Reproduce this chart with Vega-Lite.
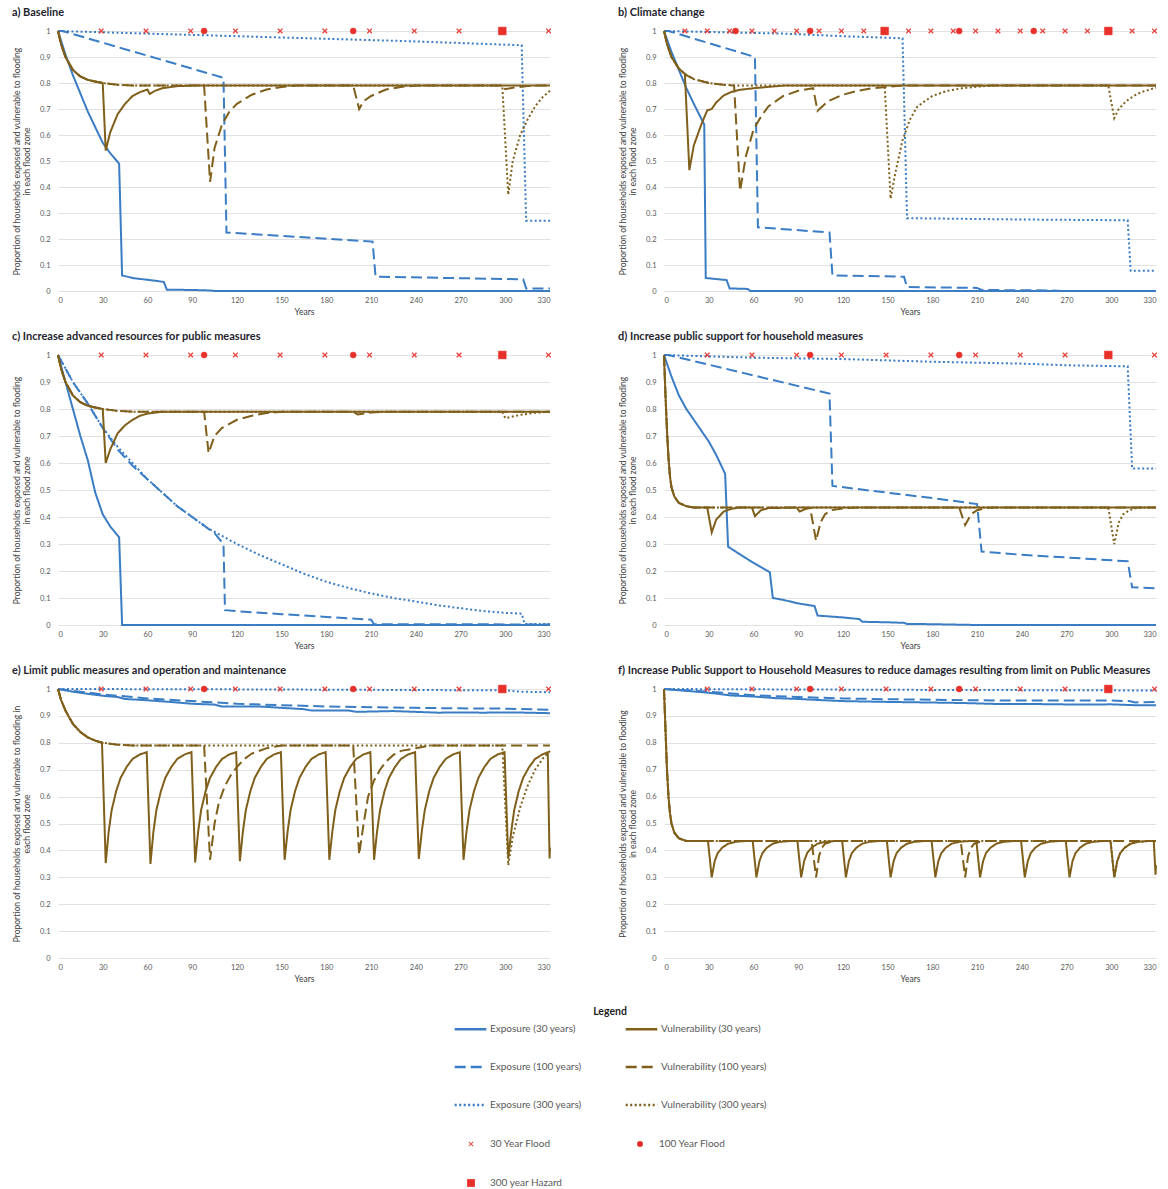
{
"$schema":"https://vega.github.io/schema/vega-lite/v6.json",
"background":"white",
"padding":{"left":12,"top":7,"right":4,"bottom":4},
"config":{
 "font":"Lato",
 "view":{"stroke":null},
 "axis":{"labelFont":"Lato","labelFontSize":7.5,"labelColor":"#595959","labelOverlap":false,"titleFont":"Lato","titleFontSize":8.5,"titleFontWeight":"normal","titleColor":"#404040","domain":false,"ticks":false,"gridColor":"#d9d9d9","gridWidth":0.8},
 "title":{"font":"Lato","fontSize":11,"fontWeight":"bold","color":"#1f1f2f","anchor":"start","frame":"bounds","offset":8},
 "legend":{"labelFont":"Lato","labelFontSize":10,"labelColor":"#595959","titleFont":"Lato","titleFontSize":10.5,"titleFontWeight":"bold","titleColor":"#1f1f1f"}
},
"data":{"values":[
{"p":"a","s":"E30","x":0,"y":1},{"p":"a","s":"E30","x":5,"y":0.91},{"p":"a","s":"E30","x":10,"y":0.83},{"p":"a","s":"E30","x":15,"y":0.76},{"p":"a","s":"E30","x":20,"y":0.69},{"p":"a","s":"E30","x":25,"y":0.63},{"p":"a","s":"E30","x":30,"y":0.57},{"p":"a","s":"E30","x":35,"y":0.53},{"p":"a","s":"E30","x":41,"y":0.49},{"p":"a","s":"E30","x":43,"y":0.06},{"p":"a","s":"E30","x":50,"y":0.05},{"p":"a","s":"E30","x":60,"y":0.043},{"p":"a","s":"E30","x":71,"y":0.035},{"p":"a","s":"E30","x":73,"y":0.005},{"p":"a","s":"E30","x":90,"y":0.004},{"p":"a","s":"E30","x":102,"y":0.002},{"p":"a","s":"E30","x":105,"y":0},{"p":"a","s":"E30","x":330,"y":0},
{"p":"a","s":"E100","x":0,"y":1},{"p":"a","s":"E100","x":3,"y":1},{"p":"a","s":"E100","x":111,"y":0.82},{"p":"a","s":"E100","x":113,"y":0.225},{"p":"a","s":"E100","x":211,"y":0.19},{"p":"a","s":"E100","x":213,"y":0.055},{"p":"a","s":"E100","x":312,"y":0.045},{"p":"a","s":"E100","x":314,"y":0.01},{"p":"a","s":"E100","x":330,"y":0.01},
{"p":"a","s":"E300","x":0,"y":1},{"p":"a","s":"E300","x":60,"y":0.99},{"p":"a","s":"E300","x":120,"y":0.98},{"p":"a","s":"E300","x":180,"y":0.97},{"p":"a","s":"E300","x":240,"y":0.96},{"p":"a","s":"E300","x":311,"y":0.945},{"p":"a","s":"E300","x":314,"y":0.27},{"p":"a","s":"E300","x":330,"y":0.27},
{"p":"a","s":"V30","x":0,"y":1},{"p":"a","s":"V30","x":2,"y":0.95},{"p":"a","s":"V30","x":5,"y":0.9},{"p":"a","s":"V30","x":10,"y":0.85},{"p":"a","s":"V30","x":15,"y":0.825},{"p":"a","s":"V30","x":20,"y":0.812},{"p":"a","s":"V30","x":25,"y":0.805},{"p":"a","s":"V30","x":30,"y":0.8},{"p":"a","s":"V30","x":32,"y":0.54},{"p":"a","s":"V30","x":35,"y":0.61},{"p":"a","s":"V30","x":40,"y":0.68},{"p":"a","s":"V30","x":45,"y":0.72},{"p":"a","s":"V30","x":50,"y":0.75},{"p":"a","s":"V30","x":55,"y":0.765},{"p":"a","s":"V30","x":60,"y":0.775},{"p":"a","s":"V30","x":61.5,"y":0.758},{"p":"a","s":"V30","x":65,"y":0.77},{"p":"a","s":"V30","x":70,"y":0.78},{"p":"a","s":"V30","x":80,"y":0.788},{"p":"a","s":"V30","x":90,"y":0.79},{"p":"a","s":"V30","x":330,"y":0.79},
{"p":"a","s":"V100","x":0,"y":1},{"p":"a","s":"V100","x":2,"y":0.95},{"p":"a","s":"V100","x":5,"y":0.9},{"p":"a","s":"V100","x":10,"y":0.85},{"p":"a","s":"V100","x":15,"y":0.825},{"p":"a","s":"V100","x":20,"y":0.812},{"p":"a","s":"V100","x":30,"y":0.8},{"p":"a","s":"V100","x":40,"y":0.793},{"p":"a","s":"V100","x":50,"y":0.79},{"p":"a","s":"V100","x":98,"y":0.79},{"p":"a","s":"V100","x":102,"y":0.42},{"p":"a","s":"V100","x":105,"y":0.55},{"p":"a","s":"V100","x":110,"y":0.64},{"p":"a","s":"V100","x":115,"y":0.69},{"p":"a","s":"V100","x":120,"y":0.72},{"p":"a","s":"V100","x":130,"y":0.755},{"p":"a","s":"V100","x":140,"y":0.775},{"p":"a","s":"V100","x":150,"y":0.785},{"p":"a","s":"V100","x":160,"y":0.79},{"p":"a","s":"V100","x":198,"y":0.79},{"p":"a","s":"V100","x":202,"y":0.7},{"p":"a","s":"V100","x":205,"y":0.73},{"p":"a","s":"V100","x":210,"y":0.75},{"p":"a","s":"V100","x":220,"y":0.775},{"p":"a","s":"V100","x":230,"y":0.785},{"p":"a","s":"V100","x":240,"y":0.79},{"p":"a","s":"V100","x":298,"y":0.79},{"p":"a","s":"V100","x":300,"y":0.776},{"p":"a","s":"V100","x":305,"y":0.782},{"p":"a","s":"V100","x":315,"y":0.788},{"p":"a","s":"V100","x":320,"y":0.79},{"p":"a","s":"V100","x":330,"y":0.79},
{"p":"a","s":"V300","x":0,"y":1},{"p":"a","s":"V300","x":2,"y":0.95},{"p":"a","s":"V300","x":5,"y":0.9},{"p":"a","s":"V300","x":10,"y":0.85},{"p":"a","s":"V300","x":15,"y":0.825},{"p":"a","s":"V300","x":20,"y":0.812},{"p":"a","s":"V300","x":30,"y":0.8},{"p":"a","s":"V300","x":40,"y":0.793},{"p":"a","s":"V300","x":50,"y":0.79},{"p":"a","s":"V300","x":298,"y":0.79},{"p":"a","s":"V300","x":302,"y":0.37},{"p":"a","s":"V300","x":305,"y":0.5},{"p":"a","s":"V300","x":310,"y":0.6},{"p":"a","s":"V300","x":315,"y":0.66},{"p":"a","s":"V300","x":320,"y":0.71},{"p":"a","s":"V300","x":325,"y":0.745},{"p":"a","s":"V300","x":330,"y":0.77},
{"p":"a","f":"F30","x":29,"y":1},{"p":"a","f":"F30","x":59,"y":1},{"p":"a","f":"F30","x":89,"y":1},{"p":"a","f":"F30","x":119,"y":1},{"p":"a","f":"F30","x":149,"y":1},{"p":"a","f":"F30","x":179,"y":1},{"p":"a","f":"F30","x":209,"y":1},{"p":"a","f":"F30","x":239,"y":1},{"p":"a","f":"F30","x":269,"y":1},{"p":"a","f":"F30","x":329,"y":1},{"p":"a","f":"F100","x":98,"y":1},{"p":"a","f":"F100","x":198,"y":1},{"p":"a","f":"H300","x":298,"y":1},

{"p":"b","s":"E30","x":0,"y":1},{"p":"b","s":"E30","x":5,"y":0.92},{"p":"b","s":"E30","x":10,"y":0.85},{"p":"b","s":"E30","x":15,"y":0.78},{"p":"b","s":"E30","x":20,"y":0.72},{"p":"b","s":"E30","x":27,"y":0.64},{"p":"b","s":"E30","x":28,"y":0.05},{"p":"b","s":"E30","x":35,"y":0.046},{"p":"b","s":"E30","x":42,"y":0.042},{"p":"b","s":"E30","x":44,"y":0.01},{"p":"b","s":"E30","x":50,"y":0.009},{"p":"b","s":"E30","x":56,"y":0.008},{"p":"b","s":"E30","x":58,"y":0},{"p":"b","s":"E30","x":330,"y":0},
{"p":"b","s":"E100","x":0,"y":1},{"p":"b","s":"E100","x":3,"y":1},{"p":"b","s":"E100","x":61,"y":0.9},{"p":"b","s":"E100","x":63,"y":0.245},{"p":"b","s":"E100","x":111,"y":0.225},{"p":"b","s":"E100","x":113,"y":0.06},{"p":"b","s":"E100","x":161,"y":0.055},{"p":"b","s":"E100","x":163,"y":0.015},{"p":"b","s":"E100","x":210,"y":0.012},{"p":"b","s":"E100","x":213,"y":0.004},{"p":"b","s":"E100","x":260,"y":0.002},{"p":"b","s":"E100","x":270,"y":0},{"p":"b","s":"E100","x":330,"y":0},
{"p":"b","s":"E300","x":0,"y":1},{"p":"b","s":"E300","x":40,"y":0.995},{"p":"b","s":"E300","x":80,"y":0.99},{"p":"b","s":"E300","x":120,"y":0.98},{"p":"b","s":"E300","x":160,"y":0.972},{"p":"b","s":"E300","x":163,"y":0.28},{"p":"b","s":"E300","x":240,"y":0.275},{"p":"b","s":"E300","x":311,"y":0.272},{"p":"b","s":"E300","x":313,"y":0.078},{"p":"b","s":"E300","x":330,"y":0.078},
{"p":"b","s":"V30","x":0,"y":1},{"p":"b","s":"V30","x":2,"y":0.95},{"p":"b","s":"V30","x":5,"y":0.9},{"p":"b","s":"V30","x":10,"y":0.855},{"p":"b","s":"V30","x":14,"y":0.835},{"p":"b","s":"V30","x":17,"y":0.465},{"p":"b","s":"V30","x":20,"y":0.56},{"p":"b","s":"V30","x":25,"y":0.64},{"p":"b","s":"V30","x":29,"y":0.695},{"p":"b","s":"V30","x":32,"y":0.7},{"p":"b","s":"V30","x":35,"y":0.725},{"p":"b","s":"V30","x":40,"y":0.752},{"p":"b","s":"V30","x":45,"y":0.765},{"p":"b","s":"V30","x":50,"y":0.773},{"p":"b","s":"V30","x":60,"y":0.78},{"p":"b","s":"V30","x":70,"y":0.785},{"p":"b","s":"V30","x":80,"y":0.79},{"p":"b","s":"V30","x":330,"y":0.79},
{"p":"b","s":"V100","x":0,"y":1},{"p":"b","s":"V100","x":2,"y":0.95},{"p":"b","s":"V100","x":5,"y":0.9},{"p":"b","s":"V100","x":10,"y":0.855},{"p":"b","s":"V100","x":15,"y":0.83},{"p":"b","s":"V100","x":20,"y":0.815},{"p":"b","s":"V100","x":30,"y":0.8},{"p":"b","s":"V100","x":40,"y":0.793},{"p":"b","s":"V100","x":47,"y":0.79},{"p":"b","s":"V100","x":51,"y":0.385},{"p":"b","s":"V100","x":55,"y":0.52},{"p":"b","s":"V100","x":60,"y":0.62},{"p":"b","s":"V100","x":65,"y":0.67},{"p":"b","s":"V100","x":70,"y":0.71},{"p":"b","s":"V100","x":80,"y":0.75},{"p":"b","s":"V100","x":90,"y":0.77},{"p":"b","s":"V100","x":100,"y":0.78},{"p":"b","s":"V100","x":103,"y":0.693},{"p":"b","s":"V100","x":110,"y":0.73},{"p":"b","s":"V100","x":120,"y":0.755},{"p":"b","s":"V100","x":130,"y":0.77},{"p":"b","s":"V100","x":140,"y":0.78},{"p":"b","s":"V100","x":150,"y":0.785},{"p":"b","s":"V100","x":160,"y":0.79},{"p":"b","s":"V100","x":330,"y":0.79},
{"p":"b","s":"V300","x":0,"y":1},{"p":"b","s":"V300","x":2,"y":0.95},{"p":"b","s":"V300","x":5,"y":0.9},{"p":"b","s":"V300","x":10,"y":0.855},{"p":"b","s":"V300","x":15,"y":0.83},{"p":"b","s":"V300","x":20,"y":0.815},{"p":"b","s":"V300","x":30,"y":0.8},{"p":"b","s":"V300","x":40,"y":0.793},{"p":"b","s":"V300","x":50,"y":0.79},{"p":"b","s":"V300","x":148,"y":0.79},{"p":"b","s":"V300","x":152,"y":0.355},{"p":"b","s":"V300","x":155,"y":0.45},{"p":"b","s":"V300","x":160,"y":0.58},{"p":"b","s":"V300","x":165,"y":0.66},{"p":"b","s":"V300","x":170,"y":0.71},{"p":"b","s":"V300","x":180,"y":0.75},{"p":"b","s":"V300","x":190,"y":0.77},{"p":"b","s":"V300","x":200,"y":0.78},{"p":"b","s":"V300","x":210,"y":0.786},{"p":"b","s":"V300","x":220,"y":0.79},{"p":"b","s":"V300","x":298,"y":0.79},{"p":"b","s":"V300","x":302,"y":0.665},{"p":"b","s":"V300","x":305,"y":0.7},{"p":"b","s":"V300","x":310,"y":0.73},{"p":"b","s":"V300","x":315,"y":0.75},{"p":"b","s":"V300","x":320,"y":0.765},{"p":"b","s":"V300","x":330,"y":0.782},
{"p":"b","f":"F30","x":14,"y":1},{"p":"b","f":"F30","x":29,"y":1},{"p":"b","f":"F30","x":44,"y":1},{"p":"b","f":"F30","x":59,"y":1},{"p":"b","f":"F30","x":74,"y":1},{"p":"b","f":"F30","x":89,"y":1},{"p":"b","f":"F30","x":104,"y":1},{"p":"b","f":"F30","x":119,"y":1},{"p":"b","f":"F30","x":134,"y":1},{"p":"b","f":"F30","x":164,"y":1},{"p":"b","f":"F30","x":179,"y":1},{"p":"b","f":"F30","x":194,"y":1},{"p":"b","f":"F30","x":209,"y":1},{"p":"b","f":"F30","x":224,"y":1},{"p":"b","f":"F30","x":239,"y":1},{"p":"b","f":"F30","x":254,"y":1},{"p":"b","f":"F30","x":269,"y":1},{"p":"b","f":"F30","x":284,"y":1},{"p":"b","f":"F30","x":314,"y":1},{"p":"b","f":"F30","x":329,"y":1},{"p":"b","f":"F100","x":48,"y":1},{"p":"b","f":"F100","x":98,"y":1},{"p":"b","f":"F100","x":198,"y":1},{"p":"b","f":"F100","x":248,"y":1},{"p":"b","f":"H300","x":148,"y":1},{"p":"b","f":"H300","x":298,"y":1},

{"p":"c","s":"E30","x":0,"y":1},{"p":"c","s":"E30","x":5,"y":0.9},{"p":"c","s":"E30","x":10,"y":0.8},{"p":"c","s":"E30","x":15,"y":0.7},{"p":"c","s":"E30","x":20,"y":0.61},{"p":"c","s":"E30","x":25,"y":0.49},{"p":"c","s":"E30","x":30,"y":0.41},{"p":"c","s":"E30","x":35,"y":0.365},{"p":"c","s":"E30","x":41,"y":0.325},{"p":"c","s":"E30","x":43,"y":0},{"p":"c","s":"E30","x":330,"y":0},
{"p":"c","s":"E100","x":0,"y":1},{"p":"c","s":"E100","x":5,"y":0.95},{"p":"c","s":"E100","x":10,"y":0.9},{"p":"c","s":"E100","x":20,"y":0.82},{"p":"c","s":"E100","x":30,"y":0.73},{"p":"c","s":"E100","x":40,"y":0.65},{"p":"c","s":"E100","x":50,"y":0.59},{"p":"c","s":"E100","x":65,"y":0.515},{"p":"c","s":"E100","x":80,"y":0.44},{"p":"c","s":"E100","x":90,"y":0.4},{"p":"c","s":"E100","x":100,"y":0.36},{"p":"c","s":"E100","x":105,"y":0.34},{"p":"c","s":"E100","x":111,"y":0.3},{"p":"c","s":"E100","x":112,"y":0.055},{"p":"c","s":"E100","x":130,"y":0.047},{"p":"c","s":"E100","x":150,"y":0.04},{"p":"c","s":"E100","x":180,"y":0.03},{"p":"c","s":"E100","x":210,"y":0.02},{"p":"c","s":"E100","x":212,"y":0.003},{"p":"c","s":"E100","x":330,"y":0.002},
{"p":"c","s":"E300","x":0,"y":1},{"p":"c","s":"E300","x":10,"y":0.9},{"p":"c","s":"E300","x":20,"y":0.82},{"p":"c","s":"E300","x":30,"y":0.73},{"p":"c","s":"E300","x":40,"y":0.66},{"p":"c","s":"E300","x":50,"y":0.6},{"p":"c","s":"E300","x":60,"y":0.54},{"p":"c","s":"E300","x":70,"y":0.49},{"p":"c","s":"E300","x":80,"y":0.44},{"p":"c","s":"E300","x":90,"y":0.4},{"p":"c","s":"E300","x":100,"y":0.36},{"p":"c","s":"E300","x":110,"y":0.33},{"p":"c","s":"E300","x":120,"y":0.3},{"p":"c","s":"E300","x":135,"y":0.26},{"p":"c","s":"E300","x":150,"y":0.225},{"p":"c","s":"E300","x":165,"y":0.19},{"p":"c","s":"E300","x":180,"y":0.16},{"p":"c","s":"E300","x":195,"y":0.137},{"p":"c","s":"E300","x":210,"y":0.117},{"p":"c","s":"E300","x":225,"y":0.1},{"p":"c","s":"E300","x":240,"y":0.087},{"p":"c","s":"E300","x":255,"y":0.073},{"p":"c","s":"E300","x":270,"y":0.062},{"p":"c","s":"E300","x":285,"y":0.052},{"p":"c","s":"E300","x":300,"y":0.045},{"p":"c","s":"E300","x":311,"y":0.042},{"p":"c","s":"E300","x":313,"y":0.004},{"p":"c","s":"E300","x":330,"y":0.004},
{"p":"c","s":"V30","x":0,"y":1},{"p":"c","s":"V30","x":2,"y":0.95},{"p":"c","s":"V30","x":5,"y":0.9},{"p":"c","s":"V30","x":10,"y":0.85},{"p":"c","s":"V30","x":15,"y":0.825},{"p":"c","s":"V30","x":20,"y":0.812},{"p":"c","s":"V30","x":25,"y":0.805},{"p":"c","s":"V30","x":30,"y":0.8},{"p":"c","s":"V30","x":32,"y":0.6},{"p":"c","s":"V30","x":35,"y":0.65},{"p":"c","s":"V30","x":40,"y":0.71},{"p":"c","s":"V30","x":45,"y":0.74},{"p":"c","s":"V30","x":50,"y":0.76},{"p":"c","s":"V30","x":55,"y":0.775},{"p":"c","s":"V30","x":60,"y":0.783},{"p":"c","s":"V30","x":70,"y":0.79},{"p":"c","s":"V30","x":330,"y":0.79},
{"p":"c","s":"V100","x":0,"y":1},{"p":"c","s":"V100","x":2,"y":0.95},{"p":"c","s":"V100","x":5,"y":0.9},{"p":"c","s":"V100","x":10,"y":0.85},{"p":"c","s":"V100","x":15,"y":0.825},{"p":"c","s":"V100","x":20,"y":0.812},{"p":"c","s":"V100","x":30,"y":0.8},{"p":"c","s":"V100","x":40,"y":0.793},{"p":"c","s":"V100","x":50,"y":0.79},{"p":"c","s":"V100","x":98,"y":0.79},{"p":"c","s":"V100","x":101,"y":0.637},{"p":"c","s":"V100","x":105,"y":0.7},{"p":"c","s":"V100","x":110,"y":0.73},{"p":"c","s":"V100","x":120,"y":0.76},{"p":"c","s":"V100","x":130,"y":0.775},{"p":"c","s":"V100","x":140,"y":0.785},{"p":"c","s":"V100","x":150,"y":0.79},{"p":"c","s":"V100","x":198,"y":0.79},{"p":"c","s":"V100","x":201,"y":0.78},{"p":"c","s":"V100","x":210,"y":0.787},{"p":"c","s":"V100","x":220,"y":0.79},{"p":"c","s":"V100","x":330,"y":0.79},
{"p":"c","s":"V300","x":0,"y":1},{"p":"c","s":"V300","x":2,"y":0.95},{"p":"c","s":"V300","x":5,"y":0.9},{"p":"c","s":"V300","x":10,"y":0.85},{"p":"c","s":"V300","x":15,"y":0.825},{"p":"c","s":"V300","x":20,"y":0.812},{"p":"c","s":"V300","x":30,"y":0.8},{"p":"c","s":"V300","x":40,"y":0.793},{"p":"c","s":"V300","x":50,"y":0.79},{"p":"c","s":"V300","x":298,"y":0.79},{"p":"c","s":"V300","x":300,"y":0.766},{"p":"c","s":"V300","x":310,"y":0.778},{"p":"c","s":"V300","x":320,"y":0.786},{"p":"c","s":"V300","x":330,"y":0.79},
{"p":"c","f":"F30","x":29,"y":1},{"p":"c","f":"F30","x":59,"y":1},{"p":"c","f":"F30","x":89,"y":1},{"p":"c","f":"F30","x":119,"y":1},{"p":"c","f":"F30","x":149,"y":1},{"p":"c","f":"F30","x":179,"y":1},{"p":"c","f":"F30","x":209,"y":1},{"p":"c","f":"F30","x":239,"y":1},{"p":"c","f":"F30","x":269,"y":1},{"p":"c","f":"F30","x":329,"y":1},{"p":"c","f":"F100","x":98,"y":1},{"p":"c","f":"F100","x":198,"y":1},{"p":"c","f":"H300","x":298,"y":1},

{"p":"d","s":"E30","x":0,"y":1},{"p":"d","s":"E30","x":5,"y":0.92},{"p":"d","s":"E30","x":10,"y":0.85},{"p":"d","s":"E30","x":15,"y":0.8},{"p":"d","s":"E30","x":20,"y":0.76},{"p":"d","s":"E30","x":25,"y":0.72},{"p":"d","s":"E30","x":30,"y":0.68},{"p":"d","s":"E30","x":35,"y":0.63},{"p":"d","s":"E30","x":41,"y":0.56},{"p":"d","s":"E30","x":43,"y":0.29},{"p":"d","s":"E30","x":50,"y":0.265},{"p":"d","s":"E30","x":60,"y":0.23},{"p":"d","s":"E30","x":71,"y":0.195},{"p":"d","s":"E30","x":73,"y":0.1},{"p":"d","s":"E30","x":80,"y":0.093},{"p":"d","s":"E30","x":90,"y":0.08},{"p":"d","s":"E30","x":101,"y":0.07},{"p":"d","s":"E30","x":103,"y":0.035},{"p":"d","s":"E30","x":110,"y":0.032},{"p":"d","s":"E30","x":120,"y":0.028},{"p":"d","s":"E30","x":131,"y":0.022},{"p":"d","s":"E30","x":133,"y":0.012},{"p":"d","s":"E30","x":150,"y":0.01},{"p":"d","s":"E30","x":161,"y":0.008},{"p":"d","s":"E30","x":163,"y":0.004},{"p":"d","s":"E30","x":180,"y":0.003},{"p":"d","s":"E30","x":200,"y":0.001},{"p":"d","s":"E30","x":210,"y":0},{"p":"d","s":"E30","x":330,"y":0},
{"p":"d","s":"E100","x":0,"y":1},{"p":"d","s":"E100","x":3,"y":1},{"p":"d","s":"E100","x":111,"y":0.857},{"p":"d","s":"E100","x":113,"y":0.515},{"p":"d","s":"E100","x":150,"y":0.49},{"p":"d","s":"E100","x":180,"y":0.47},{"p":"d","s":"E100","x":210,"y":0.448},{"p":"d","s":"E100","x":213,"y":0.272},{"p":"d","s":"E100","x":240,"y":0.26},{"p":"d","s":"E100","x":270,"y":0.25},{"p":"d","s":"E100","x":311,"y":0.236},{"p":"d","s":"E100","x":314,"y":0.14},{"p":"d","s":"E100","x":330,"y":0.136},
{"p":"d","s":"E300","x":0,"y":1},{"p":"d","s":"E300","x":30,"y":0.995},{"p":"d","s":"E300","x":60,"y":0.99},{"p":"d","s":"E300","x":120,"y":0.985},{"p":"d","s":"E300","x":180,"y":0.975},{"p":"d","s":"E300","x":240,"y":0.968},{"p":"d","s":"E300","x":270,"y":0.962},{"p":"d","s":"E300","x":311,"y":0.958},{"p":"d","s":"E300","x":314,"y":0.58},{"p":"d","s":"E300","x":330,"y":0.58},
{"p":"d","s":"V30","x":0,"y":1},{"p":"d","s":"V30","x":1,"y":0.85},{"p":"d","s":"V30","x":2,"y":0.72},{"p":"d","s":"V30","x":3,"y":0.62},{"p":"d","s":"V30","x":4,"y":0.55},{"p":"d","s":"V30","x":5,"y":0.51},{"p":"d","s":"V30","x":7,"y":0.475},{"p":"d","s":"V30","x":10,"y":0.452},{"p":"d","s":"V30","x":15,"y":0.44},{"p":"d","s":"V30","x":20,"y":0.435},{"p":"d","s":"V30","x":29,"y":0.435},{"p":"d","s":"V30","x":32,"y":0.343},{"p":"d","s":"V30","x":35,"y":0.39},{"p":"d","s":"V30","x":40,"y":0.42},{"p":"d","s":"V30","x":45,"y":0.43},{"p":"d","s":"V30","x":50,"y":0.435},{"p":"d","s":"V30","x":59,"y":0.435},{"p":"d","s":"V30","x":61,"y":0.403},{"p":"d","s":"V30","x":65,"y":0.425},{"p":"d","s":"V30","x":70,"y":0.433},{"p":"d","s":"V30","x":89,"y":0.435},{"p":"d","s":"V30","x":91,"y":0.42},{"p":"d","s":"V30","x":95,"y":0.43},{"p":"d","s":"V30","x":100,"y":0.435},{"p":"d","s":"V30","x":330,"y":0.435},
{"p":"d","s":"V100","x":0,"y":1},{"p":"d","s":"V100","x":1,"y":0.85},{"p":"d","s":"V100","x":2,"y":0.72},{"p":"d","s":"V100","x":3,"y":0.62},{"p":"d","s":"V100","x":4,"y":0.55},{"p":"d","s":"V100","x":5,"y":0.51},{"p":"d","s":"V100","x":7,"y":0.475},{"p":"d","s":"V100","x":10,"y":0.452},{"p":"d","s":"V100","x":15,"y":0.44},{"p":"d","s":"V100","x":20,"y":0.435},{"p":"d","s":"V100","x":98,"y":0.435},{"p":"d","s":"V100","x":102,"y":0.312},{"p":"d","s":"V100","x":105,"y":0.38},{"p":"d","s":"V100","x":108,"y":0.41},{"p":"d","s":"V100","x":112,"y":0.425},{"p":"d","s":"V100","x":120,"y":0.432},{"p":"d","s":"V100","x":130,"y":0.435},{"p":"d","s":"V100","x":198,"y":0.435},{"p":"d","s":"V100","x":202,"y":0.37},{"p":"d","s":"V100","x":206,"y":0.41},{"p":"d","s":"V100","x":210,"y":0.425},{"p":"d","s":"V100","x":215,"y":0.432},{"p":"d","s":"V100","x":220,"y":0.435},{"p":"d","s":"V100","x":330,"y":0.435},
{"p":"d","s":"V300","x":0,"y":1},{"p":"d","s":"V300","x":1,"y":0.85},{"p":"d","s":"V300","x":2,"y":0.72},{"p":"d","s":"V300","x":3,"y":0.62},{"p":"d","s":"V300","x":4,"y":0.55},{"p":"d","s":"V300","x":5,"y":0.51},{"p":"d","s":"V300","x":7,"y":0.475},{"p":"d","s":"V300","x":10,"y":0.452},{"p":"d","s":"V300","x":15,"y":0.44},{"p":"d","s":"V300","x":20,"y":0.435},{"p":"d","s":"V300","x":298,"y":0.435},{"p":"d","s":"V300","x":302,"y":0.3},{"p":"d","s":"V300","x":305,"y":0.38},{"p":"d","s":"V300","x":308,"y":0.41},{"p":"d","s":"V300","x":312,"y":0.425},{"p":"d","s":"V300","x":316,"y":0.432},{"p":"d","s":"V300","x":320,"y":0.435},{"p":"d","s":"V300","x":330,"y":0.435},
{"p":"d","f":"F30","x":29,"y":1},{"p":"d","f":"F30","x":59,"y":1},{"p":"d","f":"F30","x":89,"y":1},{"p":"d","f":"F30","x":119,"y":1},{"p":"d","f":"F30","x":149,"y":1},{"p":"d","f":"F30","x":179,"y":1},{"p":"d","f":"F30","x":209,"y":1},{"p":"d","f":"F30","x":239,"y":1},{"p":"d","f":"F30","x":269,"y":1},{"p":"d","f":"F30","x":329,"y":1},{"p":"d","f":"F100","x":98,"y":1},{"p":"d","f":"F100","x":198,"y":1},{"p":"d","f":"H300","x":298,"y":1},

{"p":"e","s":"E30","x":0,"y":1},{"p":"e","s":"E30","x":10,"y":0.99},{"p":"e","s":"E30","x":20,"y":0.982},{"p":"e","s":"E30","x":30,"y":0.975},{"p":"e","s":"E30","x":40,"y":0.97},{"p":"e","s":"E30","x":45,"y":0.963},{"p":"e","s":"E30","x":60,"y":0.958},{"p":"e","s":"E30","x":75,"y":0.952},{"p":"e","s":"E30","x":90,"y":0.945},{"p":"e","s":"E30","x":105,"y":0.942},{"p":"e","s":"E30","x":110,"y":0.935},{"p":"e","s":"E30","x":135,"y":0.935},{"p":"e","s":"E30","x":150,"y":0.93},{"p":"e","s":"E30","x":165,"y":0.925},{"p":"e","s":"E30","x":170,"y":0.92},{"p":"e","s":"E30","x":195,"y":0.92},{"p":"e","s":"E30","x":200,"y":0.915},{"p":"e","s":"E30","x":225,"y":0.918},{"p":"e","s":"E30","x":240,"y":0.915},{"p":"e","s":"E30","x":255,"y":0.912},{"p":"e","s":"E30","x":270,"y":0.913},{"p":"e","s":"E30","x":285,"y":0.912},{"p":"e","s":"E30","x":300,"y":0.913},{"p":"e","s":"E30","x":315,"y":0.912},{"p":"e","s":"E30","x":330,"y":0.91},
{"p":"e","s":"E100","x":0,"y":1},{"p":"e","s":"E100","x":30,"y":0.98},{"p":"e","s":"E100","x":60,"y":0.965},{"p":"e","s":"E100","x":90,"y":0.955},{"p":"e","s":"E100","x":120,"y":0.945},{"p":"e","s":"E100","x":150,"y":0.94},{"p":"e","s":"E100","x":180,"y":0.935},{"p":"e","s":"E100","x":210,"y":0.932},{"p":"e","s":"E100","x":240,"y":0.93},{"p":"e","s":"E100","x":270,"y":0.928},{"p":"e","s":"E100","x":300,"y":0.927},{"p":"e","s":"E100","x":330,"y":0.923},
{"p":"e","s":"E300","x":0,"y":1},{"p":"e","s":"E300","x":100,"y":0.999},{"p":"e","s":"E300","x":200,"y":0.997},{"p":"e","s":"E300","x":300,"y":0.995},{"p":"e","s":"E300","x":310,"y":0.99},{"p":"e","s":"E300","x":330,"y":0.988},
{"p":"e","s":"V30","x":0,"y":1},{"p":"e","s":"V30","x":2,"y":0.96},{"p":"e","s":"V30","x":5,"y":0.92},{"p":"e","s":"V30","x":10,"y":0.87},{"p":"e","s":"V30","x":15,"y":0.84},{"p":"e","s":"V30","x":20,"y":0.82},{"p":"e","s":"V30","x":25,"y":0.808},{"p":"e","s":"V30","x":29.5,"y":0.8},{"p":"e","s":"V30","x":32,"y":0.353},
{"p":"e","s":"V30","x":34,"y":0.47},{"p":"e","s":"V30","x":36,"y":0.55},{"p":"e","s":"V30","x":39,"y":0.62},{"p":"e","s":"V30","x":42,"y":0.67},{"p":"e","s":"V30","x":46,"y":0.71},{"p":"e","s":"V30","x":50,"y":0.74},{"p":"e","s":"V30","x":55,"y":0.757},{"p":"e","s":"V30","x":59.5,"y":0.765},{"p":"e","s":"V30","x":62,"y":0.35},
{"p":"e","s":"V30","x":64,"y":0.47},{"p":"e","s":"V30","x":66,"y":0.55},{"p":"e","s":"V30","x":69,"y":0.62},{"p":"e","s":"V30","x":72,"y":0.67},{"p":"e","s":"V30","x":76,"y":0.71},{"p":"e","s":"V30","x":80,"y":0.74},{"p":"e","s":"V30","x":85,"y":0.757},{"p":"e","s":"V30","x":89.5,"y":0.765},{"p":"e","s":"V30","x":92,"y":0.355},
{"p":"e","s":"V30","x":94,"y":0.47},{"p":"e","s":"V30","x":96,"y":0.55},{"p":"e","s":"V30","x":99,"y":0.62},{"p":"e","s":"V30","x":102,"y":0.67},{"p":"e","s":"V30","x":106,"y":0.71},{"p":"e","s":"V30","x":110,"y":0.74},{"p":"e","s":"V30","x":115,"y":0.757},{"p":"e","s":"V30","x":119.5,"y":0.765},{"p":"e","s":"V30","x":122,"y":0.36},
{"p":"e","s":"V30","x":124,"y":0.47},{"p":"e","s":"V30","x":126,"y":0.55},{"p":"e","s":"V30","x":129,"y":0.62},{"p":"e","s":"V30","x":132,"y":0.67},{"p":"e","s":"V30","x":136,"y":0.71},{"p":"e","s":"V30","x":140,"y":0.74},{"p":"e","s":"V30","x":145,"y":0.757},{"p":"e","s":"V30","x":149.5,"y":0.765},{"p":"e","s":"V30","x":152,"y":0.365},
{"p":"e","s":"V30","x":154,"y":0.47},{"p":"e","s":"V30","x":156,"y":0.55},{"p":"e","s":"V30","x":159,"y":0.62},{"p":"e","s":"V30","x":162,"y":0.67},{"p":"e","s":"V30","x":166,"y":0.71},{"p":"e","s":"V30","x":170,"y":0.74},{"p":"e","s":"V30","x":175,"y":0.757},{"p":"e","s":"V30","x":179.5,"y":0.765},{"p":"e","s":"V30","x":182,"y":0.365},
{"p":"e","s":"V30","x":184,"y":0.47},{"p":"e","s":"V30","x":186,"y":0.55},{"p":"e","s":"V30","x":189,"y":0.62},{"p":"e","s":"V30","x":192,"y":0.67},{"p":"e","s":"V30","x":196,"y":0.71},{"p":"e","s":"V30","x":200,"y":0.74},{"p":"e","s":"V30","x":205,"y":0.757},{"p":"e","s":"V30","x":209.5,"y":0.765},{"p":"e","s":"V30","x":212,"y":0.365},
{"p":"e","s":"V30","x":214,"y":0.47},{"p":"e","s":"V30","x":216,"y":0.55},{"p":"e","s":"V30","x":219,"y":0.62},{"p":"e","s":"V30","x":222,"y":0.67},{"p":"e","s":"V30","x":226,"y":0.71},{"p":"e","s":"V30","x":230,"y":0.74},{"p":"e","s":"V30","x":235,"y":0.757},{"p":"e","s":"V30","x":239.5,"y":0.765},{"p":"e","s":"V30","x":242,"y":0.368},
{"p":"e","s":"V30","x":244,"y":0.47},{"p":"e","s":"V30","x":246,"y":0.55},{"p":"e","s":"V30","x":249,"y":0.62},{"p":"e","s":"V30","x":252,"y":0.67},{"p":"e","s":"V30","x":256,"y":0.71},{"p":"e","s":"V30","x":260,"y":0.74},{"p":"e","s":"V30","x":265,"y":0.757},{"p":"e","s":"V30","x":269.5,"y":0.765},{"p":"e","s":"V30","x":272,"y":0.365},
{"p":"e","s":"V30","x":274,"y":0.47},{"p":"e","s":"V30","x":276,"y":0.55},{"p":"e","s":"V30","x":279,"y":0.62},{"p":"e","s":"V30","x":282,"y":0.67},{"p":"e","s":"V30","x":286,"y":0.71},{"p":"e","s":"V30","x":290,"y":0.74},{"p":"e","s":"V30","x":295,"y":0.757},{"p":"e","s":"V30","x":299.5,"y":0.765},{"p":"e","s":"V30","x":302,"y":0.37},
{"p":"e","s":"V30","x":304,"y":0.47},{"p":"e","s":"V30","x":306,"y":0.55},{"p":"e","s":"V30","x":309,"y":0.62},{"p":"e","s":"V30","x":312,"y":0.67},{"p":"e","s":"V30","x":316,"y":0.71},{"p":"e","s":"V30","x":320,"y":0.74},{"p":"e","s":"V30","x":325,"y":0.757},{"p":"e","s":"V30","x":328.5,"y":0.765},{"p":"e","s":"V30","x":329.7,"y":0.37},{"p":"e","s":"V30","x":330,"y":0.41},
{"p":"e","s":"V100","x":0,"y":1},{"p":"e","s":"V100","x":2,"y":0.96},{"p":"e","s":"V100","x":5,"y":0.92},{"p":"e","s":"V100","x":10,"y":0.87},{"p":"e","s":"V100","x":15,"y":0.84},{"p":"e","s":"V100","x":20,"y":0.82},{"p":"e","s":"V100","x":25,"y":0.808},{"p":"e","s":"V100","x":30,"y":0.8},{"p":"e","s":"V100","x":40,"y":0.793},{"p":"e","s":"V100","x":50,"y":0.79},{"p":"e","s":"V100","x":98,"y":0.79},{"p":"e","s":"V100","x":102,"y":0.365},{"p":"e","s":"V100","x":105,"y":0.5},{"p":"e","s":"V100","x":108,"y":0.58},{"p":"e","s":"V100","x":112,"y":0.64},{"p":"e","s":"V100","x":116,"y":0.68},{"p":"e","s":"V100","x":120,"y":0.71},{"p":"e","s":"V100","x":125,"y":0.74},{"p":"e","s":"V100","x":130,"y":0.76},{"p":"e","s":"V100","x":140,"y":0.78},{"p":"e","s":"V100","x":150,"y":0.79},{"p":"e","s":"V100","x":198,"y":0.79},{"p":"e","s":"V100","x":202,"y":0.384},{"p":"e","s":"V100","x":205,"y":0.5},{"p":"e","s":"V100","x":208,"y":0.6},{"p":"e","s":"V100","x":212,"y":0.66},{"p":"e","s":"V100","x":216,"y":0.7},{"p":"e","s":"V100","x":220,"y":0.73},{"p":"e","s":"V100","x":225,"y":0.755},{"p":"e","s":"V100","x":230,"y":0.77},{"p":"e","s":"V100","x":240,"y":0.78},{"p":"e","s":"V100","x":250,"y":0.79},{"p":"e","s":"V100","x":330,"y":0.79},
{"p":"e","s":"V300","x":0,"y":1},{"p":"e","s":"V300","x":2,"y":0.96},{"p":"e","s":"V300","x":5,"y":0.92},{"p":"e","s":"V300","x":10,"y":0.87},{"p":"e","s":"V300","x":15,"y":0.84},{"p":"e","s":"V300","x":20,"y":0.82},{"p":"e","s":"V300","x":25,"y":0.808},{"p":"e","s":"V300","x":30,"y":0.8},{"p":"e","s":"V300","x":40,"y":0.793},{"p":"e","s":"V300","x":50,"y":0.79},{"p":"e","s":"V300","x":298,"y":0.79},{"p":"e","s":"V300","x":302,"y":0.345},{"p":"e","s":"V300","x":305,"y":0.45},{"p":"e","s":"V300","x":310,"y":0.56},{"p":"e","s":"V300","x":315,"y":0.64},{"p":"e","s":"V300","x":320,"y":0.7},{"p":"e","s":"V300","x":325,"y":0.74},{"p":"e","s":"V300","x":330,"y":0.77},
{"p":"e","f":"F30","x":29,"y":1},{"p":"e","f":"F30","x":59,"y":1},{"p":"e","f":"F30","x":89,"y":1},{"p":"e","f":"F30","x":119,"y":1},{"p":"e","f":"F30","x":149,"y":1},{"p":"e","f":"F30","x":179,"y":1},{"p":"e","f":"F30","x":209,"y":1},{"p":"e","f":"F30","x":239,"y":1},{"p":"e","f":"F30","x":269,"y":1},{"p":"e","f":"F30","x":329,"y":1},{"p":"e","f":"F100","x":98,"y":1},{"p":"e","f":"F100","x":198,"y":1},{"p":"e","f":"H300","x":298,"y":1},

{"p":"f","s":"E30","x":0,"y":1},{"p":"f","s":"E30","x":15,"y":0.993},{"p":"f","s":"E30","x":30,"y":0.986},{"p":"f","s":"E30","x":45,"y":0.976},{"p":"f","s":"E30","x":60,"y":0.972},{"p":"f","s":"E30","x":75,"y":0.966},{"p":"f","s":"E30","x":90,"y":0.963},{"p":"f","s":"E30","x":100,"y":0.96},{"p":"f","s":"E30","x":120,"y":0.955},{"p":"f","s":"E30","x":150,"y":0.952},{"p":"f","s":"E30","x":175,"y":0.95},{"p":"f","s":"E30","x":200,"y":0.948},{"p":"f","s":"E30","x":225,"y":0.944},{"p":"f","s":"E30","x":250,"y":0.944},{"p":"f","s":"E30","x":280,"y":0.942},{"p":"f","s":"E30","x":300,"y":0.943},{"p":"f","s":"E30","x":315,"y":0.94},{"p":"f","s":"E30","x":330,"y":0.94},
{"p":"f","s":"E100","x":0,"y":1},{"p":"f","s":"E100","x":30,"y":0.99},{"p":"f","s":"E100","x":60,"y":0.977},{"p":"f","s":"E100","x":90,"y":0.97},{"p":"f","s":"E100","x":120,"y":0.965},{"p":"f","s":"E100","x":150,"y":0.962},{"p":"f","s":"E100","x":180,"y":0.96},{"p":"f","s":"E100","x":210,"y":0.958},{"p":"f","s":"E100","x":250,"y":0.957},{"p":"f","s":"E100","x":300,"y":0.957},{"p":"f","s":"E100","x":312,"y":0.955},{"p":"f","s":"E100","x":316,"y":0.95},{"p":"f","s":"E100","x":330,"y":0.952},
{"p":"f","s":"E300","x":0,"y":1},{"p":"f","s":"E300","x":150,"y":0.997},{"p":"f","s":"E300","x":300,"y":0.995},{"p":"f","s":"E300","x":330,"y":0.994},
{"p":"f","s":"V30","x":0,"y":1},{"p":"f","s":"V30","x":1,"y":0.85},{"p":"f","s":"V30","x":2,"y":0.7},{"p":"f","s":"V30","x":3,"y":0.6},{"p":"f","s":"V30","x":4,"y":0.54},{"p":"f","s":"V30","x":5,"y":0.5},{"p":"f","s":"V30","x":7,"y":0.465},{"p":"f","s":"V30","x":10,"y":0.445},{"p":"f","s":"V30","x":15,"y":0.435},{"p":"f","s":"V30","x":29.5,"y":0.435},{"p":"f","s":"V30","x":32,"y":0.3},
{"p":"f","s":"V30","x":34,"y":0.36},{"p":"f","s":"V30","x":36,"y":0.39},{"p":"f","s":"V30","x":39,"y":0.41},{"p":"f","s":"V30","x":43,"y":0.425},{"p":"f","s":"V30","x":48,"y":0.432},{"p":"f","s":"V30","x":55,"y":0.435},{"p":"f","s":"V30","x":59.5,"y":0.435},{"p":"f","s":"V30","x":62,"y":0.3},
{"p":"f","s":"V30","x":64,"y":0.36},{"p":"f","s":"V30","x":66,"y":0.39},{"p":"f","s":"V30","x":69,"y":0.41},{"p":"f","s":"V30","x":73,"y":0.425},{"p":"f","s":"V30","x":78,"y":0.432},{"p":"f","s":"V30","x":85,"y":0.435},{"p":"f","s":"V30","x":89.5,"y":0.435},{"p":"f","s":"V30","x":92,"y":0.3},
{"p":"f","s":"V30","x":94,"y":0.36},{"p":"f","s":"V30","x":96,"y":0.39},{"p":"f","s":"V30","x":99,"y":0.41},{"p":"f","s":"V30","x":103,"y":0.425},{"p":"f","s":"V30","x":108,"y":0.432},{"p":"f","s":"V30","x":115,"y":0.435},{"p":"f","s":"V30","x":119.5,"y":0.435},{"p":"f","s":"V30","x":122,"y":0.3},
{"p":"f","s":"V30","x":124,"y":0.36},{"p":"f","s":"V30","x":126,"y":0.39},{"p":"f","s":"V30","x":129,"y":0.41},{"p":"f","s":"V30","x":133,"y":0.425},{"p":"f","s":"V30","x":138,"y":0.432},{"p":"f","s":"V30","x":145,"y":0.435},{"p":"f","s":"V30","x":149.5,"y":0.435},{"p":"f","s":"V30","x":152,"y":0.3},
{"p":"f","s":"V30","x":154,"y":0.36},{"p":"f","s":"V30","x":156,"y":0.39},{"p":"f","s":"V30","x":159,"y":0.41},{"p":"f","s":"V30","x":163,"y":0.425},{"p":"f","s":"V30","x":168,"y":0.432},{"p":"f","s":"V30","x":175,"y":0.435},{"p":"f","s":"V30","x":179.5,"y":0.435},{"p":"f","s":"V30","x":182,"y":0.3},
{"p":"f","s":"V30","x":184,"y":0.36},{"p":"f","s":"V30","x":186,"y":0.39},{"p":"f","s":"V30","x":189,"y":0.41},{"p":"f","s":"V30","x":193,"y":0.425},{"p":"f","s":"V30","x":198,"y":0.432},{"p":"f","s":"V30","x":205,"y":0.435},{"p":"f","s":"V30","x":209.5,"y":0.435},{"p":"f","s":"V30","x":212,"y":0.3},
{"p":"f","s":"V30","x":214,"y":0.36},{"p":"f","s":"V30","x":216,"y":0.39},{"p":"f","s":"V30","x":219,"y":0.41},{"p":"f","s":"V30","x":223,"y":0.425},{"p":"f","s":"V30","x":228,"y":0.432},{"p":"f","s":"V30","x":235,"y":0.435},{"p":"f","s":"V30","x":239.5,"y":0.435},{"p":"f","s":"V30","x":242,"y":0.3},
{"p":"f","s":"V30","x":244,"y":0.36},{"p":"f","s":"V30","x":246,"y":0.39},{"p":"f","s":"V30","x":249,"y":0.41},{"p":"f","s":"V30","x":253,"y":0.425},{"p":"f","s":"V30","x":258,"y":0.432},{"p":"f","s":"V30","x":265,"y":0.435},{"p":"f","s":"V30","x":269.5,"y":0.435},{"p":"f","s":"V30","x":272,"y":0.3},
{"p":"f","s":"V30","x":274,"y":0.36},{"p":"f","s":"V30","x":276,"y":0.39},{"p":"f","s":"V30","x":279,"y":0.41},{"p":"f","s":"V30","x":283,"y":0.425},{"p":"f","s":"V30","x":288,"y":0.432},{"p":"f","s":"V30","x":295,"y":0.435},{"p":"f","s":"V30","x":299.5,"y":0.435},{"p":"f","s":"V30","x":302,"y":0.3},
{"p":"f","s":"V30","x":304,"y":0.36},{"p":"f","s":"V30","x":306,"y":0.39},{"p":"f","s":"V30","x":309,"y":0.41},{"p":"f","s":"V30","x":313,"y":0.425},{"p":"f","s":"V30","x":318,"y":0.432},{"p":"f","s":"V30","x":325,"y":0.435},{"p":"f","s":"V30","x":328.5,"y":0.435},{"p":"f","s":"V30","x":329.7,"y":0.31},{"p":"f","s":"V30","x":330,"y":0.345},
{"p":"f","s":"V100","x":0,"y":1},{"p":"f","s":"V100","x":1,"y":0.85},{"p":"f","s":"V100","x":2,"y":0.7},{"p":"f","s":"V100","x":3,"y":0.6},{"p":"f","s":"V100","x":4,"y":0.54},{"p":"f","s":"V100","x":5,"y":0.5},{"p":"f","s":"V100","x":7,"y":0.465},{"p":"f","s":"V100","x":10,"y":0.445},{"p":"f","s":"V100","x":15,"y":0.435},{"p":"f","s":"V100","x":99,"y":0.435},{"p":"f","s":"V100","x":102,"y":0.3},{"p":"f","s":"V100","x":104,"y":0.38},{"p":"f","s":"V100","x":106,"y":0.41},{"p":"f","s":"V100","x":108,"y":0.425},{"p":"f","s":"V100","x":112,"y":0.432},{"p":"f","s":"V100","x":116,"y":0.435},{"p":"f","s":"V100","x":199,"y":0.435},{"p":"f","s":"V100","x":202,"y":0.3},{"p":"f","s":"V100","x":204,"y":0.38},{"p":"f","s":"V100","x":206,"y":0.41},{"p":"f","s":"V100","x":208,"y":0.425},{"p":"f","s":"V100","x":212,"y":0.432},{"p":"f","s":"V100","x":216,"y":0.435},{"p":"f","s":"V100","x":330,"y":0.435},
{"p":"f","s":"V300","x":0,"y":1},{"p":"f","s":"V300","x":1,"y":0.85},{"p":"f","s":"V300","x":2,"y":0.7},{"p":"f","s":"V300","x":3,"y":0.6},{"p":"f","s":"V300","x":4,"y":0.54},{"p":"f","s":"V300","x":5,"y":0.5},{"p":"f","s":"V300","x":7,"y":0.465},{"p":"f","s":"V300","x":10,"y":0.445},{"p":"f","s":"V300","x":15,"y":0.435},{"p":"f","s":"V300","x":299.5,"y":0.435},{"p":"f","s":"V300","x":302,"y":0.3},{"p":"f","s":"V300","x":304,"y":0.36},{"p":"f","s":"V300","x":306,"y":0.39},{"p":"f","s":"V300","x":309,"y":0.41},{"p":"f","s":"V300","x":313,"y":0.425},{"p":"f","s":"V300","x":318,"y":0.432},{"p":"f","s":"V300","x":325,"y":0.435},{"p":"f","s":"V300","x":330,"y":0.435},
{"p":"f","f":"F30","x":29,"y":1},{"p":"f","f":"F30","x":59,"y":1},{"p":"f","f":"F30","x":89,"y":1},{"p":"f","f":"F30","x":119,"y":1},{"p":"f","f":"F30","x":149,"y":1},{"p":"f","f":"F30","x":179,"y":1},{"p":"f","f":"F30","x":209,"y":1},{"p":"f","f":"F30","x":239,"y":1},{"p":"f","f":"F30","x":269,"y":1},{"p":"f","f":"F30","x":329,"y":1},{"p":"f","f":"F100","x":98,"y":1},{"p":"f","f":"F100","x":198,"y":1},{"p":"f","f":"H300","x":298,"y":1}
]},
"spacing":15,
"vconcat":[
{"spacing":64,"hconcat":[
{"title":"a) Baseline","width":492,"height":260,"transform":[{"filter":"datum.p=='a'"}],"layer":[
 {"transform":[{"filter":"isValid(datum.s)"}],"mark":{"type":"line","strokeWidth":2},"encoding":{
  "x":{"field":"x","type":"quantitative","scale":{"domain":[0,330],"nice":false},"axis":{"values":[0,30,60,90,120,150,180,210,240,270,300,330],"tickCount":12,"grid":false,"title":"Years","labelPadding":5,"titlePadding":4}},
  "y":{"field":"y","type":"quantitative","scale":{"domain":[0,1],"nice":false},"axis":{"values":[0,0.1,0.2,0.3,0.4,0.5,0.6,0.7,0.8,0.9,1],"tickCount":11,"format":"~g","title":["Proportion of households exposed and vulnerable to flooding","in each flood zone"],"labelPadding":8,"titlePadding":8}},
  "color":{"field":"s","type":"nominal","scale":{"domain":["E30","E100","E300","V30","V100","V300"],"range":["#3a7dc4","#3a7dc4","#3a7dc4","#7f5f1a","#7f5f1a","#7f5f1a"]},"legend":{"title":"Legend","titleAnchor":"middle","orient":"none","legendX":395,"legendY":976,"columns":2,"symbolType":"stroke","symbolSize":1000,"symbolStrokeWidth":2.5,"labelExpr":"{'E30':'Exposure (30 years)','V30':'Vulnerability (30 years)','E100':'Exposure (100 years)','V100':'Vulnerability (100 years)','E300':'Exposure (300 years)','V300':'Vulnerability (300 years)'}[datum.label]","rowPadding":15,"columnPadding":24,"gridAlign":"all","labelOffset":2,"titlePadding":-6}},
  "strokeDash":{"field":"s","type":"nominal","scale":{"domain":["E30","E100","E300","V30","V100","V300"],"range":[[1,0],[11,5],[2,2.5],[1,0],[11,5],[2,2.5]]},"legend":{"title":"Legend","titleAnchor":"middle","orient":"none","legendX":395,"legendY":976,"columns":2,"symbolType":"stroke","symbolSize":1000,"symbolStrokeWidth":2.5,"labelExpr":"{'E30':'Exposure (30 years)','V30':'Vulnerability (30 years)','E100':'Exposure (100 years)','V100':'Vulnerability (100 years)','E300':'Exposure (300 years)','V300':'Vulnerability (300 years)'}[datum.label]","rowPadding":15,"columnPadding":24,"gridAlign":"all","labelOffset":2,"titlePadding":-6}}
 }},
 {"transform":[{"filter":"isValid(datum.f)"}],"mark":{"type":"point","filled":true,"fill":"#e8302a","stroke":"#e8302a","strokeWidth":0.5,"opacity":1,"size":36},"encoding":{
  "x":{"field":"x","type":"quantitative"},"y":{"field":"y","type":"quantitative"},
  "shape":{"field":"f","type":"nominal","scale":{"domain":["F30","H300","F100"],"range":["M-0.6,-0.8L0,-0.2L0.6,-0.8L0.8,-0.6L0.2,0L0.8,0.6L0.6,0.8L0,0.2L-0.6,0.8L-0.8,0.6L-0.2,0L-0.8,-0.6Z","M-1.3,-1.3H1.3V1.3H-1.3Z","circle"]},"legend":{"title":null,"orient":"none","legendX":408,"legendY":1108,"columns":2,"symbolSize":36,"symbolFillColor":"#e8302a","symbolStrokeColor":"#e8302a","symbolStrokeWidth":0.5,"labelOffset":14,"rowPadding":29,"columnPadding":72,"gridAlign":"all","labelExpr":"{'F30':'30 Year Flood','F100':'100 Year Flood','H300':'300 year Hazard'}[datum.label]","encode":{"symbols":{"update":{"stroke":{"value":"#e8302a"},"fill":{"value":"#e8302a"},"strokeWidth":{"value":0.5},"opacity":{"value":1}}}}}}
 }}
]},
{"title":"b) Climate change","width":492,"height":260,"transform":[{"filter":"datum.p=='b'"}],"layer":[
 {"transform":[{"filter":"isValid(datum.s)"}],"mark":{"type":"line","strokeWidth":2},"encoding":{
  "x":{"field":"x","type":"quantitative","scale":{"domain":[0,330],"nice":false},"axis":{"values":[0,30,60,90,120,150,180,210,240,270,300,330],"tickCount":12,"grid":false,"title":"Years","labelPadding":5,"titlePadding":4}},
  "y":{"field":"y","type":"quantitative","scale":{"domain":[0,1],"nice":false},"axis":{"values":[0,0.1,0.2,0.3,0.4,0.5,0.6,0.7,0.8,0.9,1],"tickCount":11,"format":"~g","title":["Proportion of households exposed and vulnerable to flooding","in each flood zone"],"labelPadding":8,"titlePadding":8}},
  "color":{"field":"s","type":"nominal"},
  "strokeDash":{"field":"s","type":"nominal"}
 }},
 {"transform":[{"filter":"isValid(datum.f)"}],"mark":{"type":"point","filled":true,"fill":"#e8302a","stroke":"#e8302a","strokeWidth":0.5,"opacity":1,"size":36},"encoding":{
  "x":{"field":"x","type":"quantitative"},"y":{"field":"y","type":"quantitative"},
  "shape":{"field":"f","type":"nominal"}
 }}
]}
]},
{"spacing":64,"hconcat":[
{"title":"c) Increase advanced resources for public measures","width":492,"height":270,"transform":[{"filter":"datum.p=='c'"}],"layer":[
 {"transform":[{"filter":"isValid(datum.s)"}],"mark":{"type":"line","strokeWidth":2},"encoding":{
  "x":{"field":"x","type":"quantitative","scale":{"domain":[0,330],"nice":false},"axis":{"values":[0,30,60,90,120,150,180,210,240,270,300,330],"tickCount":12,"grid":false,"title":"Years","labelPadding":5,"titlePadding":4}},
  "y":{"field":"y","type":"quantitative","scale":{"domain":[0,1],"nice":false},"axis":{"values":[0,0.1,0.2,0.3,0.4,0.5,0.6,0.7,0.8,0.9,1],"tickCount":11,"format":"~g","title":["Proportion of households exposed and vulnerable to flooding","in each flood zone"],"labelPadding":8,"titlePadding":8}},
  "color":{"field":"s","type":"nominal"},
  "strokeDash":{"field":"s","type":"nominal"}
 }},
 {"transform":[{"filter":"isValid(datum.f)"}],"mark":{"type":"point","filled":true,"fill":"#e8302a","stroke":"#e8302a","strokeWidth":0.5,"opacity":1,"size":36},"encoding":{
  "x":{"field":"x","type":"quantitative"},"y":{"field":"y","type":"quantitative"},
  "shape":{"field":"f","type":"nominal"}
 }}
]},
{"title":"d) Increase public support for household measures","width":492,"height":270,"transform":[{"filter":"datum.p=='d'"}],"layer":[
 {"transform":[{"filter":"isValid(datum.s)"}],"mark":{"type":"line","strokeWidth":2},"encoding":{
  "x":{"field":"x","type":"quantitative","scale":{"domain":[0,330],"nice":false},"axis":{"values":[0,30,60,90,120,150,180,210,240,270,300,330],"tickCount":12,"grid":false,"title":"Years","labelPadding":5,"titlePadding":4}},
  "y":{"field":"y","type":"quantitative","scale":{"domain":[0,1],"nice":false},"axis":{"values":[0,0.1,0.2,0.3,0.4,0.5,0.6,0.7,0.8,0.9,1],"tickCount":11,"format":"~g","title":["Proportion of households exposed and vulnerable to flooding","in each flood zone"],"labelPadding":8,"titlePadding":8}},
  "color":{"field":"s","type":"nominal"},
  "strokeDash":{"field":"s","type":"nominal"}
 }},
 {"transform":[{"filter":"isValid(datum.f)"}],"mark":{"type":"point","filled":true,"fill":"#e8302a","stroke":"#e8302a","strokeWidth":0.5,"opacity":1,"size":36},"encoding":{
  "x":{"field":"x","type":"quantitative"},"y":{"field":"y","type":"quantitative"},
  "shape":{"field":"f","type":"nominal"}
 }}
]}
]},
{"spacing":64,"hconcat":[
{"title":"e) Limit public measures and operation and maintenance","width":492,"height":269,"transform":[{"filter":"datum.p=='e'"}],"layer":[
 {"transform":[{"filter":"isValid(datum.s)"}],"mark":{"type":"line","strokeWidth":2},"encoding":{
  "x":{"field":"x","type":"quantitative","scale":{"domain":[0,330],"nice":false},"axis":{"values":[0,30,60,90,120,150,180,210,240,270,300,330],"tickCount":12,"grid":false,"title":"Years","labelPadding":5,"titlePadding":4}},
  "y":{"field":"y","type":"quantitative","scale":{"domain":[0,1],"nice":false},"axis":{"values":[0,0.1,0.2,0.3,0.4,0.5,0.6,0.7,0.8,0.9,1],"tickCount":11,"format":"~g","title":["Proportion of households exposed and vulnerable to flooding in","each flood zone"],"labelPadding":8,"titlePadding":8}},
  "color":{"field":"s","type":"nominal"},
  "strokeDash":{"field":"s","type":"nominal"}
 }},
 {"transform":[{"filter":"isValid(datum.f)"}],"mark":{"type":"point","filled":true,"fill":"#e8302a","stroke":"#e8302a","strokeWidth":0.5,"opacity":1,"size":36},"encoding":{
  "x":{"field":"x","type":"quantitative"},"y":{"field":"y","type":"quantitative"},
  "shape":{"field":"f","type":"nominal"}
 }}
]},
{"title":"f) Increase Public Support to Household Measures to reduce damages resulting from limit on Public Measures","width":492,"height":269,"transform":[{"filter":"datum.p=='f'"}],"layer":[
 {"transform":[{"filter":"isValid(datum.s)"}],"mark":{"type":"line","strokeWidth":2},"encoding":{
  "x":{"field":"x","type":"quantitative","scale":{"domain":[0,330],"nice":false},"axis":{"values":[0,30,60,90,120,150,180,210,240,270,300,330],"tickCount":12,"grid":false,"title":"Years","labelPadding":5,"titlePadding":4}},
  "y":{"field":"y","type":"quantitative","scale":{"domain":[0,1],"nice":false},"axis":{"values":[0,0.1,0.2,0.3,0.4,0.5,0.6,0.7,0.8,0.9,1],"tickCount":11,"format":"~g","title":["Proportion of households exposed and vulnerable to flooding","in each flood zone"],"labelPadding":8,"titlePadding":8}},
  "color":{"field":"s","type":"nominal"},
  "strokeDash":{"field":"s","type":"nominal"}
 }},
 {"transform":[{"filter":"isValid(datum.f)"}],"mark":{"type":"point","filled":true,"fill":"#e8302a","stroke":"#e8302a","strokeWidth":0.5,"opacity":1,"size":36},"encoding":{
  "x":{"field":"x","type":"quantitative"},"y":{"field":"y","type":"quantitative"},
  "shape":{"field":"f","type":"nominal"}
 }}
]}
]}
]
}
